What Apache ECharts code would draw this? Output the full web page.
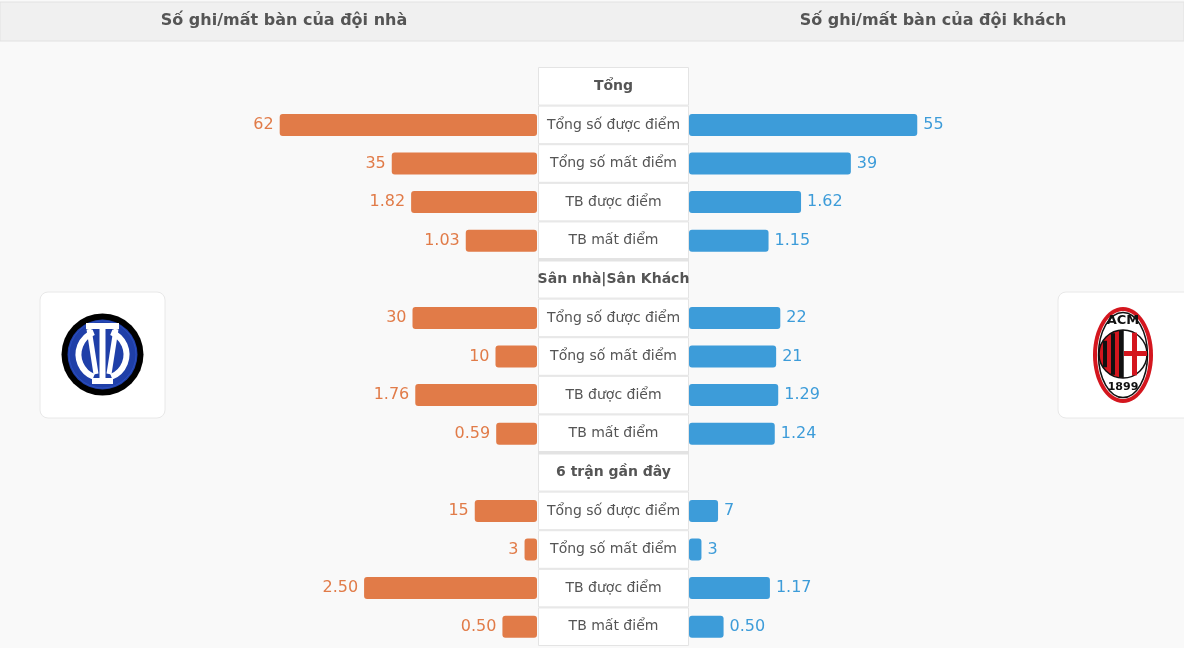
<!DOCTYPE html>
<html><head><meta charset="utf-8">
<script src="https://cdn.jsdelivr.net/npm/echarts@6/dist/echarts.min.js"></script>
<style>html,body{margin:0;padding:0;background:#f9f9f9}#c{width:1184px;height:648px}</style>
</head><body><div id="c"></div>
<script>
const leftTitle = 'Số ghi/mất bàn của đội nhà';
const rightTitle = 'Số ghi/mất bàn của đội khách';
const categories = ['Tổng','Tổng số được điểm','Tổng số mất điểm','TB được điểm','TB mất điểm',
  'Sân nhà|Sân Khách','Tổng số được điểm','Tổng số mất điểm','TB được điểm','TB mất điểm',
  '6 trận gần đây','Tổng số được điểm','Tổng số mất điểm','TB được điểm','TB mất điểm'];
const rowKinds = ['header','count','count','avg','avg','header','count','count','avg','avg','header','count','count','avg','avg'];
const homeValues = [null,62,35,1.82,1.03,null,30,10,1.76,0.59,null,15,3,2.50,0.50];
const awayValues = [null,55,39,1.62,1.15,null,22,21,1.29,1.24,null,7,3,1.17,0.50];

const FONT = 'DejaVu Sans';
const ORANGE = '#e17b48', BLUE = '#3d9cd9';
const slots = categories.map((c,i)=>'r'+i);
function pick(vals, kind){ return vals.map((v,i)=> rowKinds[i]===kind ? v : '-'); }
function fmt(p){ const k = rowKinds[p.dataIndex]; return k==='avg' ? Number(p.value).toFixed(2) : String(p.value); }

const G = {top:67, height:579};
const chart = echarts.init(document.getElementById('c'), null, {renderer:'canvas'});

function sideSeries(vals, kind, xi, yi, color, pos){
  return {type:'bar', xAxisIndex:xi, yAxisIndex:yi, data:pick(vals, kind), barWidth:22, barGap:'-100%',
    itemStyle:{color:color, borderRadius:3}, silent:true,
    label:{show:true, position:pos, distance:6, color:color, fontSize:16, fontFamily:FONT, formatter:fmt}};
}

// logos (decorative)
const interC = [102.5, 354.5];
const milanC = [1123, 355];
const logo = [];
logo.push({type:'rect', shape:{x:40,y:292,width:125,height:126,r:8}, style:{fill:'#fff', stroke:'#e8e8e8'}});
logo.push({type:'rect', shape:{x:1058,y:292,width:140,height:126,r:8}, style:{fill:'#fff', stroke:'#e8e8e8'}});
logo.push({type:'circle', shape:{cx:interC[0],cy:interC[1],r:41}, style:{fill:'#000'}});
logo.push({type:'circle', shape:{cx:interC[0],cy:interC[1],r:35}, style:{fill:'#1f3fa8'}});
logo.push({type:'circle', shape:{cx:interC[0],cy:interC[1],r:33.5}, style:{fill:'none', stroke:'#2c4fc0', lineWidth:1}});
logo.push({type:'rect', shape:{x:86,y:323,width:33,height:6}, style:{fill:'#fff'}});
logo.push({type:'rect', shape:{x:92,y:378,width:21,height:6}, style:{fill:'#fff'}});
logo.push({type:'rect', shape:{x:99.5,y:325,width:6,height:56}, style:{fill:'#fff'}});
logo.push({type:'arc', shape:{cx:interC[0],cy:interC[1],r:24,startAngle:Math.PI*0.62,endAngle:Math.PI*1.38}, style:{stroke:'#fff', lineWidth:6, fill:'none'}});
logo.push({type:'arc', shape:{cx:interC[0],cy:interC[1],r:24,startAngle:-Math.PI*0.38,endAngle:Math.PI*0.38}, style:{stroke:'#fff', lineWidth:6, fill:'none'}});
logo.push({type:'line', shape:{x1:89,y1:329,x2:96,y2:374}, style:{stroke:'#fff', lineWidth:5}});
logo.push({type:'line', shape:{x1:116,y1:329,x2:109,y2:374}, style:{stroke:'#fff', lineWidth:5}});
// Milan
logo.push({type:'ellipse', shape:{cx:milanC[0],cy:milanC[1],rx:30,ry:48}, style:{fill:'#d4161e'}});
logo.push({type:'ellipse', shape:{cx:milanC[0],cy:milanC[1],rx:26,ry:44}, style:{fill:'#fff'}});
logo.push({type:'ellipse', shape:{cx:milanC[0],cy:milanC[1],rx:24.5,ry:42.5}, style:{fill:'none', stroke:'#111', lineWidth:1.5}});
(function(){
  const r = 24, cx = milanC[0], cy = milanC[1]-1;
  logo.push({type:'sector', shape:{cx:cx,cy:cy,r:r,startAngle:Math.PI/2,endAngle:Math.PI*1.5}, style:{fill:'#d4161e'}});
  for (let dx of [-20,-12,-4]) {
    const w = 4; const h = Math.sqrt(Math.max(0, r*r - dx*dx));
    logo.push({type:'rect', shape:{x:cx+dx,y:cy-h,width:w,height:2*h}, style:{fill:'#111'}});
  }
  logo.push({type:'circle', shape:{cx:cx,cy:cy,r:r}, style:{fill:'none', stroke:'#111', lineWidth:1.5}});
  const hx = Math.sqrt(r*r - 11*11);
  logo.push({type:'rect', shape:{x:cx+9,y:cy-hx,width:5,height:2*hx}, style:{fill:'#d4161e'}});
  logo.push({type:'rect', shape:{x:cx+1,y:cy-3,width:r-1,height:5}, style:{fill:'#d4161e'}});
  logo.push({type:'line', shape:{x1:cx,y1:cy-r,x2:cx,y2:cy+r}, style:{stroke:'#111', lineWidth:1.5}});
  logo.push({type:'text', style:{x:cx,y:cy-33,text:'ACM',fill:'#111',font:'bold 13px '+FONT,textAlign:'center',textVerticalAlign:'middle'}});
  logo.push({type:'text', style:{x:cx,y:cy+33,text:'1899',fill:'#111',font:'bold 11px '+FONT,textAlign:'center',textVerticalAlign:'middle'}});
})();

const option = {
  backgroundColor:'#f9f9f9',
  animation:false,
  graphic:[
    {type:'rect', z:-10, shape:{x:0,y:2,width:1184,height:39}, style:{fill:'#f0f0f0', stroke:'#e2e2e2'}},
    {type:'text', style:{x:284,y:21,text:leftTitle,fill:'#555',font:'bold 16px '+FONT,textAlign:'center',textVerticalAlign:'middle'}},
    {type:'text', style:{x:933,y:21,text:rightTitle,fill:'#555',font:'bold 16px '+FONT,textAlign:'center',textVerticalAlign:'middle'}}
  ].concat(logo),
  grid:[
    {left:122, width:415, top:G.top, height:G.height},
    {left:538, width:151, top:G.top, height:G.height},
    {left:689, width:415, top:G.top, height:G.height}
  ],
  xAxis:[
    {gridIndex:0, type:'value', min:0, max:100, inverse:true, show:false},
    {gridIndex:0, type:'value', min:0, max:6, inverse:true, show:false},
    {gridIndex:1, type:'value', min:0, max:1, show:false},
    {gridIndex:2, type:'value', min:0, max:100, show:false},
    {gridIndex:2, type:'value', min:0, max:6, show:false}
  ],
  yAxis:[0,1,2].map(g=>({gridIndex:g, type:'category', data:slots, inverse:true, show:false})),
  series:[
    sideSeries(homeValues,'count',0,0,ORANGE,'left'),
    sideSeries(homeValues,'avg',1,0,ORANGE,'left'),
    {type:'bar', xAxisIndex:2, yAxisIndex:1, barCategoryGap:0, silent:true,
      data:categories.map(()=>1),
      itemStyle:{color:'#fff', borderColor:'#e4e4e4', borderWidth:1},
      label:{show:true, position:'inside', color:'#555', fontSize:14, fontFamily:FONT,
        formatter:p=> rowKinds[p.dataIndex]==='header' ? '{b|'+categories[p.dataIndex]+'}' : categories[p.dataIndex],
        rich:{b:{fontWeight:'bold', fontSize:14, color:'#555', fontFamily:FONT}}}},
    {type:'custom', xAxisIndex:2, yAxisIndex:1, silent:true, z:5,
      data:categories.map((c,i)=>[1,i]).filter((d,i)=>rowKinds[i]==='header' && i>0),
      renderItem:(params, api)=>{
        const p = api.coord([0, api.value(1)]);
        const s = api.size([1, 1]);
        return {type:'rect', shape:{x:p[0], y:p[1]-s[1]/2-2, width:s[0], height:3.5}, style:{fill:'#e3e3e3'}};
      }},
    sideSeries(awayValues,'count',3,2,BLUE,'right'),
    sideSeries(awayValues,'avg',4,2,BLUE,'right')
  ]
};
chart.setOption(option);
</script></body></html>
